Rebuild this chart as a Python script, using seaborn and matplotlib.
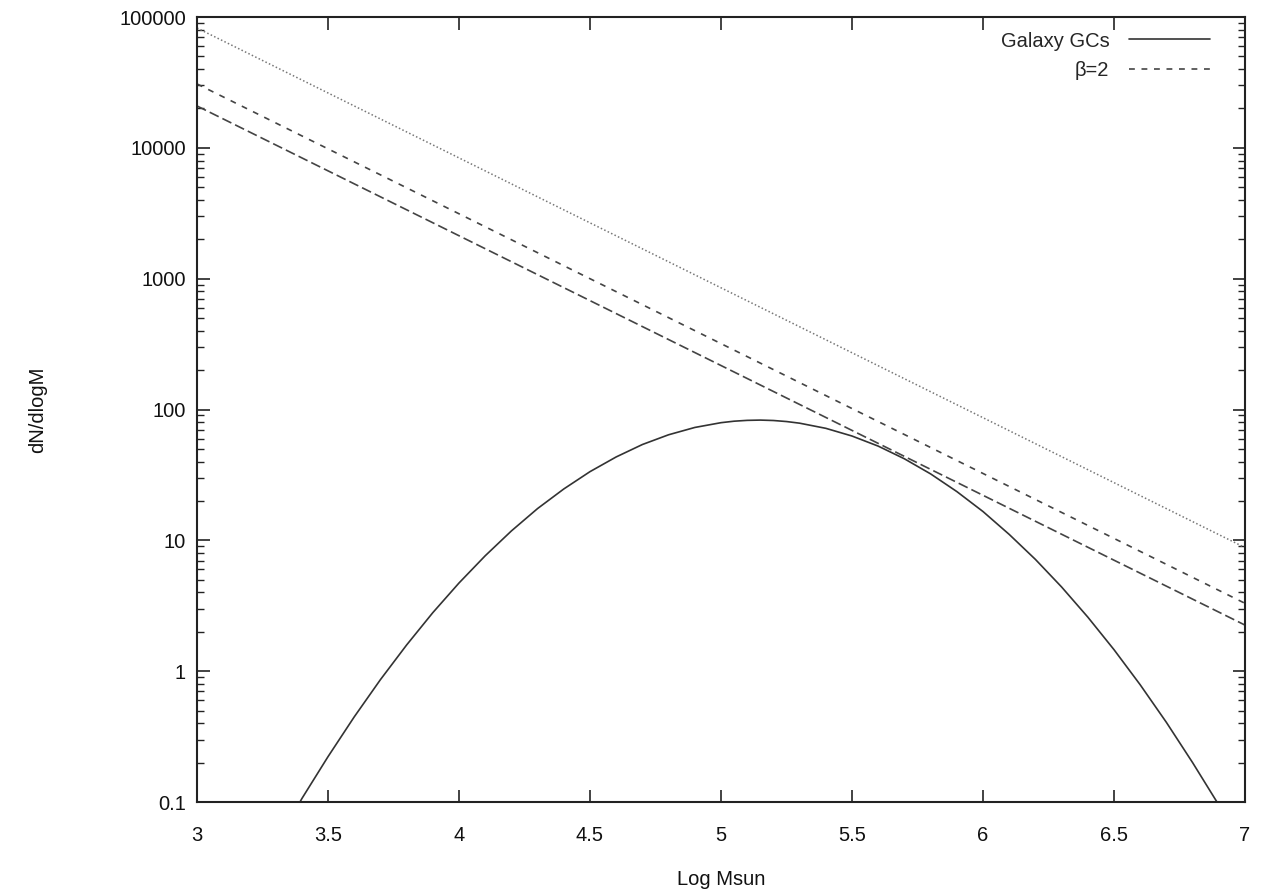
import numpy as np
import pandas as pd
import matplotlib
matplotlib.use("Agg")
import matplotlib.pyplot as plt
import seaborn as sns
from matplotlib.ticker import LogLocator, FixedLocator, NullFormatter

# --- data ---
gc_logm = [3.393, 3.4, 3.5, 3.6, 3.7, 3.8, 3.9, 4.0, 4.1, 4.2, 4.3, 4.4, 4.5, 4.6, 4.7,
           4.8, 4.9, 5.0, 5.05, 5.1, 5.15, 5.2, 5.25, 5.3, 5.4, 5.5, 5.6, 5.7, 5.8, 5.9,
           6.0, 6.1, 6.2, 6.3, 6.4, 6.5, 6.6, 6.7, 6.8, 6.893]
gc_dn = [0.100, 0.106, 0.222, 0.447, 0.861, 1.585, 2.80, 4.72, 7.62, 11.8, 17.5, 24.7,
         33.5, 43.4, 54.0, 64.1, 72.9, 79.3, 81.4, 82.6, 83.0, 82.4, 80.9, 78.6, 71.8,
         62.7, 52.5, 42.0, 32.2, 23.6, 16.6, 11.1, 7.15, 4.40, 2.59, 1.46, 0.787,
         0.406, 0.200, 0.100]

pl_logm = [3.0, 7.0]
beta2_dn = [30800, 3.3]
lower_dn = [20900, 2.25]
upper_dn = [82400, 8.8]

x_ticks = [3, 3.5, 4, 4.5, 5, 5.5, 6, 6.5, 7]
x_ticklabels = ["3", "3.5", "4", "4.5", "5", "5.5", "6", "6.5", "7"]
y_ticks = [0.1, 1, 10, 100, 1000, 10000, 100000]
y_ticklabels = ["0.1", "1", "10", "100", "1000", "10000", "100000"]

sns.set_theme(style="white")
plt.rcParams["font.family"] = ["Liberation Sans", "DejaVu Sans"]

fig = plt.figure(figsize=(12.72, 8.94), dpi=100)
ax = fig.add_axes([197/1272, 1 - 802/894, (1245-197)/1272, (802-17)/894])

df_gc = pd.DataFrame({"x": gc_logm, "y": gc_dn})
df_b2 = pd.DataFrame({"x": pl_logm, "y": beta2_dn})
df_lo = pd.DataFrame({"x": pl_logm, "y": lower_dn})
df_up = pd.DataFrame({"x": pl_logm, "y": upper_dn})

sns.lineplot(data=df_gc, x="x", y="y", ax=ax, color="#333333", lw=1.2,
             label="Galaxy GCs", sort=False)
sns.lineplot(data=df_b2, x="x", y="y", ax=ax, color="#444444", lw=1.2,
             label="β=2", dashes=False)
ax.lines[-1].set_dashes([3.5, 4])
sns.lineplot(data=df_lo, x="x", y="y", ax=ax, color="#444444", lw=1.2, legend=False)
ax.lines[-1].set_dashes([6, 2.5])
sns.lineplot(data=df_up, x="x", y="y", ax=ax, color="#777777", lw=1.1, legend=False)
ax.lines[-1].set_dashes([1, 1.5])

ax.set_yscale("log")
ax.set_xlim(3, 7)
ax.set_ylim(0.1, 100000)

ax.xaxis.set_major_locator(FixedLocator(x_ticks))
ax.set_xticklabels(x_ticklabels)
ax.yaxis.set_major_locator(FixedLocator(y_ticks))
ax.set_yticklabels(y_ticklabels)
ax.yaxis.set_minor_locator(LogLocator(base=10, subs=np.arange(2, 10)))
ax.yaxis.set_minor_formatter(NullFormatter())

ax.tick_params(axis="both", which="major", direction="in", length=9, width=1.2,
               color="#222222", labelsize=14.5, labelcolor="#111111",
               top=True, right=True, bottom=True, left=True)
ax.tick_params(axis="x", which="major", pad=17)
ax.tick_params(axis="y", which="major", pad=8)
ax.tick_params(axis="y", which="minor", direction="in", length=5, width=1.0,
               color="#222222", left=True, right=True)

for s in ax.spines.values():
    s.set_color("#222222")
    s.set_linewidth(1.5)

ax.set_xlabel("Log Msun", fontsize=14.5, color="#111111", labelpad=18)
ax.set_ylabel("dN/dlogM", fontsize=14.5, color="#111111", labelpad=52)

leg = ax.legend(loc="upper right", bbox_to_anchor=(0.982, 1.002), frameon=False,
                markerfirst=False, fontsize=14.5, handlelength=4.0,
                handletextpad=1.0, labelspacing=0.5, borderaxespad=0.4)

fig.savefig("out.png", dpi=100)
